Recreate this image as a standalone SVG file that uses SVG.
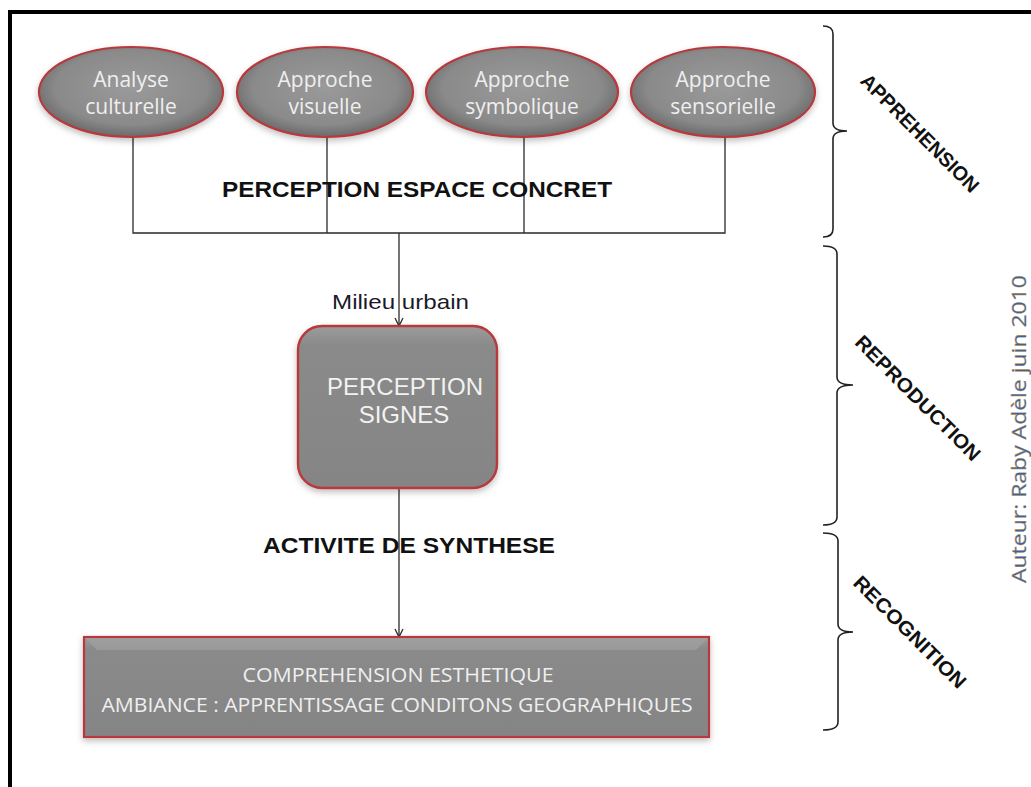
<svg xmlns="http://www.w3.org/2000/svg" width="1031" height="787" viewBox="0 0 1031 787">
<style>
.etxt{font-family:"Open Sans","Liberation Sans",sans-serif;font-size:21px;fill:#efefef;text-anchor:middle}
.btxt{font-family:"Liberation Sans",Arial,sans-serif;font-weight:bold;fill:#111;}
.phase{font-family:"Liberation Sans",Arial,sans-serif;font-weight:bold;font-size:20px;fill:#111;text-anchor:middle}
.conn{fill:none;stroke:#2a2a2a;stroke-width:1.3}
.brace{fill:none;stroke:#222;stroke-width:1.6}
.ell{fill:url(#eg);stroke:#b8383a;stroke-width:2.2;filter:url(#sh)}
</style>
<defs>
<radialGradient id="eg" cx="50%" cy="45%" r="55%">
<stop offset="0" stop-color="#9a9a9a"/>
<stop offset="0.75" stop-color="#8a8a8a"/>
<stop offset="1" stop-color="#6a6a6a"/>
</radialGradient>
<linearGradient id="bg" x1="0" y1="0" x2="0" y2="1">
<stop offset="0" stop-color="#9c9c9c"/>
<stop offset="0.12" stop-color="#8a8a8a"/>
<stop offset="1" stop-color="#858585"/>
</linearGradient>
<filter id="sh" x="-10%" y="-10%" width="120%" height="130%">
<feDropShadow dx="0" dy="3" stdDeviation="3" flood-color="#000" flood-opacity="0.25"/>
</filter>
<marker id="arr" markerWidth="12" markerHeight="12" refX="10" refY="6" orient="auto" markerUnits="userSpaceOnUse">
<path d="M2,2 L10,6 L2,10" fill="none" stroke="#2a2a2a" stroke-width="1.3"/>
</marker>
</defs>
<rect width="1031" height="787" fill="#fff"/>
<path d="M10,787 V12 H1031" fill="none" stroke="#000" stroke-width="4"/>

<g id="connectors">
<path class="conn" d="M133,137 V233 H725 V137"/>
<path class="conn" d="M327,137 V233"/>
<path class="conn" d="M524,137 V233"/>
<path class="conn" d="M399,233 V326" marker-end="url(#arr)"/>
<path class="conn" d="M399,488 V637" marker-end="url(#arr)"/>
</g>

<g id="node-analyse">
<ellipse class="ell" cx="131" cy="92" rx="92" ry="45"/>
<text class="etxt" x="131" y="87">Analyse</text>
<text class="etxt" x="131" y="114">culturelle</text>
</g>
<g id="node-visuelle">
<ellipse class="ell" cx="325" cy="92" rx="88" ry="45"/>
<text class="etxt" x="325" y="87">Approche</text>
<text class="etxt" x="325" y="114">visuelle</text>
</g>
<g id="node-symbolique">
<ellipse class="ell" cx="522" cy="92" rx="96" ry="45"/>
<text class="etxt" x="522" y="87">Approche</text>
<text class="etxt" x="522" y="114">symbolique</text>
</g>
<g id="node-sensorielle">
<ellipse class="ell" cx="723" cy="92" rx="92" ry="45"/>
<text class="etxt" x="723" y="87">Approche</text>
<text class="etxt" x="723" y="114">sensorielle</text>
</g>

<g id="label-perception-espace">
<text class="btxt" x="222" y="197" font-size="22" textLength="390" lengthAdjust="spacingAndGlyphs">PERCEPTION ESPACE CONCRET</text>
</g>
<g id="label-milieu">
<text x="332" y="309" font-family="'Liberation Sans',Arial,sans-serif" font-size="21" fill="#1a1a2a" textLength="137" lengthAdjust="spacingAndGlyphs">Milieu urbain</text>
</g>

<g id="node-perception-signes">
<rect x="298" y="326" width="199" height="162" rx="24" ry="24" fill="url(#bg)" stroke="#b8383a" stroke-width="2.4" filter="url(#sh)"/>
<text x="405" y="395" font-family="'Liberation Sans',Arial,sans-serif" font-size="24" fill="#f2f2f2" text-anchor="middle">PERCEPTION</text>
<text x="404" y="423" font-family="'Liberation Sans',Arial,sans-serif" font-size="24" fill="#f2f2f2" text-anchor="middle">SIGNES</text>
</g>

<g id="label-activite">
<text class="btxt" x="263" y="553" font-size="22" textLength="292" lengthAdjust="spacingAndGlyphs">ACTIVITE DE SYNTHESE</text>
</g>

<g id="node-comprehension">
<rect x="84" y="637" width="625" height="100" fill="url(#bg)" stroke="#b8383a" stroke-width="2.2" filter="url(#sh)"/>
<path d="M85,638 L97,650 H696 L708,638 Z" fill="#a3a3a3" opacity="0.6"/>
<text x="398" y="682" font-family="'Open Sans','Liberation Sans',sans-serif" font-size="20" fill="#efefef" text-anchor="middle" textLength="311" lengthAdjust="spacingAndGlyphs">COMPREHENSION ESTHETIQUE</text>
<text x="397" y="712" font-family="'Open Sans','Liberation Sans',sans-serif" font-size="20" fill="#efefef" text-anchor="middle" textLength="591" lengthAdjust="spacingAndGlyphs">AMBIANCE : APPRENTISSAGE CONDITONS GEOGRAPHIQUES</text>
</g>

<g id="brace-apprehension">
<path class="brace" d="M823,26 Q833,26 833,34 V123 Q833,131 847,131 Q833,131 833,139 V229 Q833,237 823,237"/>
<text class="phase" transform="translate(920,133) rotate(45)" x="0" y="7" textLength="158" lengthAdjust="spacingAndGlyphs">APPREHENSION</text>
</g>
<g id="brace-reproduction">
<path class="brace" d="M823,246 Q837,246 837,254 V377 Q837,385 853,385 Q837,385 837,393 V517 Q837,525 823,525"/>
<text class="phase" transform="translate(918,398) rotate(45)" x="0" y="7" textLength="168" lengthAdjust="spacingAndGlyphs">REPRODUCTION</text>
</g>
<g id="brace-recognition">
<path class="brace" d="M823,533 Q838,533 838,541 V624 Q838,632 853,632 Q838,632 838,640 V722 Q838,730 823,730"/>
<text class="phase" transform="translate(910,632) rotate(45)" x="0" y="7" textLength="150" lengthAdjust="spacingAndGlyphs">RECOGNITION</text>
</g>

<g id="author">
<text transform="translate(1026,429) rotate(-90)" x="0" y="0" font-family="'Open Sans','Liberation Sans',sans-serif" font-size="20" fill="#2f66ad" stroke="#c98a2c" stroke-width="0.35" text-anchor="middle" textLength="308" lengthAdjust="spacingAndGlyphs">Auteur: Raby Adèle juin 2010</text>
</g>
</svg>
